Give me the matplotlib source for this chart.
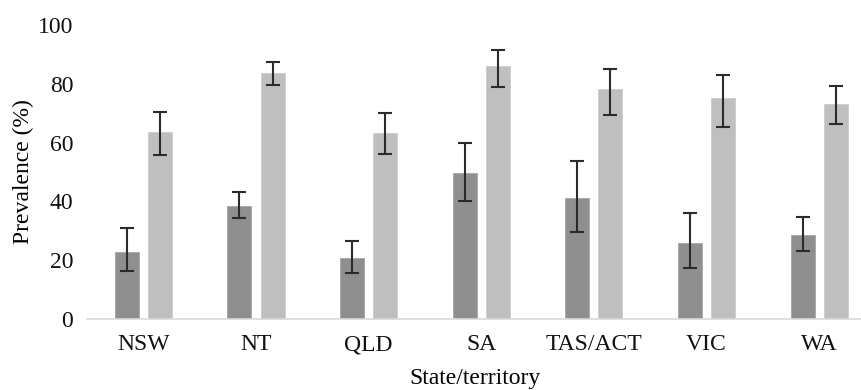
import numpy as np
import matplotlib
matplotlib.use("Agg")
import matplotlib.pyplot as plt

states = ["NSW", "NT", "QLD", "SA", "TAS/ACT", "VIC", "WA"]

# dark series
dark = [22.7, 38.5, 20.9, 49.7, 41.0, 25.9, 28.6]
dark_lo = [16.4, 34.2, 15.7, 40.1, 29.7, 17.5, 23.2]
dark_hi = [30.8, 43.3, 26.5, 59.8, 53.8, 36.1, 34.6]

# light series
light = [63.7, 83.8, 63.2, 86.1, 78.2, 75.1, 73.2]
light_lo = [55.8, 79.6, 56.1, 78.8, 69.3, 65.2, 66.4]
light_hi = [70.5, 87.4, 70.2, 91.5, 85.1, 82.9, 79.1]

plt.rcParams['font.family'] = ['Liberation Serif', 'DejaVu Serif']

fig = plt.figure(figsize=(8.62, 3.9), dpi=100)
ax = fig.add_axes([0.101, 0.182, 0.899, 0.754])

x = np.arange(len(states))
w = 0.213
off = 0.147

dark = np.array(dark)
light = np.array(light)
dark_err = [dark - np.array(dark_lo), np.array(dark_hi) - dark]
light_err = [light - np.array(light_lo), np.array(light_hi) - light]

ekw = dict(ecolor='#2b2b2b', elinewidth=1.5, capsize=5, capthick=1.5)
ax.bar(x - off, dark, w, color='#8f8f8f', edgecolor='#a5a5a5', linewidth=0.6,
       yerr=dark_err, error_kw=ekw, zorder=2)
ax.bar(x + off, light, w, color='#bfbfbf', edgecolor='#cccccc', linewidth=0.6,
       yerr=light_err, error_kw=ekw, zorder=2)

ax.set_xlim(-0.5, 6.38)
ax.set_ylim(0, 100)
ax.set_yticks([0, 20, 40, 60, 80, 100])
ax.set_xticks(x)
ax.set_xticklabels(states)
ax.tick_params(axis='both', length=0, labelsize=17, colors='#111111')
ax.tick_params(axis='y', pad=10)
ax.tick_params(axis='x', pad=11)

for s in ['top', 'right', 'left']:
    ax.spines[s].set_visible(False)
ax.spines['bottom'].set_color('#d9d9d9')
ax.spines['bottom'].set_linewidth(1.2)

ax.set_ylabel('Prevalence (%)', fontsize=17, labelpad=3)
ax.set_xlabel('State/territory', fontsize=17, labelpad=9)

fig.savefig('out.png', dpi=100)
